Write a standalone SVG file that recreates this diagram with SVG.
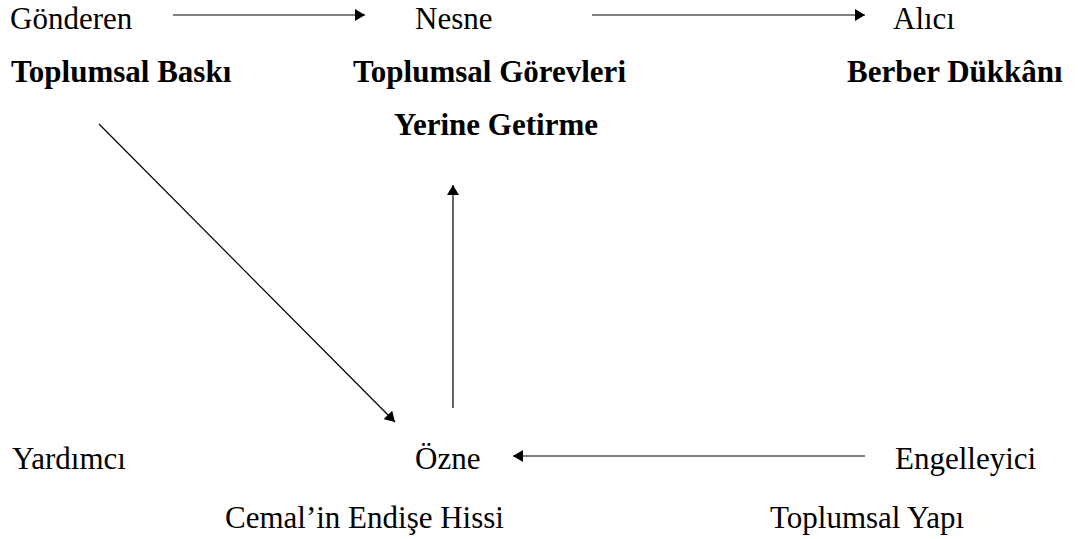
<svg xmlns="http://www.w3.org/2000/svg" width="1078" height="539" viewBox="0 0 1078 539">
  <style>
    .lbl { font-family: "Liberation Serif", "Times New Roman", serif; font-size: 31px; fill: #000; }
    .val { font-family: "Liberation Serif", "Times New Roman", serif; font-size: 31px; font-weight: bold; fill: #000; }
    .edge { stroke: #000; stroke-width: 1.2; fill: none; marker-end: url(#head); }
  </style>
  <defs>
    <marker id="head" viewBox="0 0 10 12" refX="10" refY="6" markerWidth="10" markerHeight="12" markerUnits="userSpaceOnUse" orient="auto">
      <path d="M0,0 L10,6 L0,12 Z" fill="#000"/>
    </marker>
  </defs>
  <rect width="1078" height="539" fill="#fff"/>

  <g id="connectors">
    <line class="edge" x1="173" y1="15" x2="365" y2="15"/>
    <line class="edge" x1="592" y1="15" x2="865" y2="15"/>
    <line class="edge" x1="99" y1="124" x2="395" y2="422"/>
    <line class="edge" x1="453" y1="408" x2="453" y2="185"/>
    <line class="edge" x1="865" y1="456" x2="513" y2="456"/>
  </g>

  <g id="gonderen">
    <text class="lbl" x="10" y="29">Gönderen</text>
    <text class="val" x="11" y="82">Toplumsal Baskı</text>
  </g>
  <g id="nesne">
    <text class="lbl" x="415" y="29">Nesne</text>
    <text class="val" x="353" y="82">Toplumsal Görevleri</text>
    <text class="val" x="394" y="135">Yerine Getirme</text>
  </g>
  <g id="alici">
    <text class="lbl" x="893" y="29">Alıcı</text>
    <text class="val" x="847" y="82">Berber Dükkânı</text>
  </g>
  <g id="yardimci">
    <text class="lbl" x="12" y="469">Yardımcı</text>
  </g>
  <g id="ozne">
    <text class="lbl" x="415" y="469">Özne</text>
    <text class="lbl" x="225" y="528">Cemal’in Endişe Hissi</text>
  </g>
  <g id="engelleyici">
    <text class="lbl" x="895" y="469">Engelleyici</text>
    <text class="lbl" x="770" y="528">Toplumsal Yapı</text>
  </g>
</svg>
